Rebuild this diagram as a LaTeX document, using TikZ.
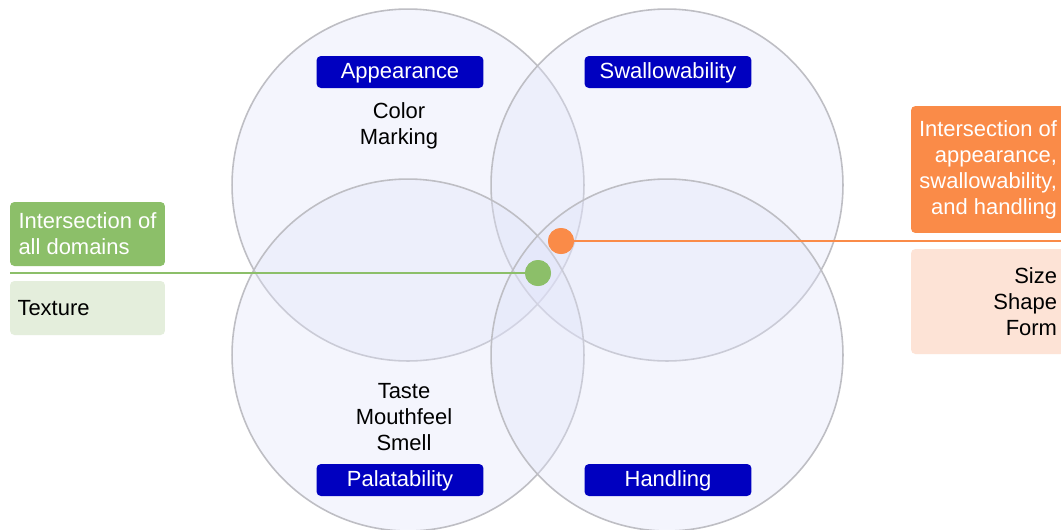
\documentclass[tikz,border=0pt]{standalone}
\usepackage{fontspec}
\setmainfont{Liberation Sans}
\usepackage{tikz}
\usetikzlibrary{positioning}
\definecolor{domfill}{RGB}{225,228,250}
\definecolor{domline}{RGB}{190,190,196}
\definecolor{labblue}{RGB}{0,0,192}
\definecolor{allgreen}{RGB}{140,191,105}
\definecolor{allgreenlt}{RGB}{228,238,220}
\definecolor{triorange}{RGB}{250,139,72}
\definecolor{triorangelt}{RGB}{253,227,214}
\tikzstyle{domcircle} = [circle,draw=domline,line width=0.9pt,fill=domfill,fill opacity=0.35,draw opacity=1,minimum size=7.04cm,inner sep=0pt]
\tikzstyle{domlabel} = [fill=labblue,text=white,rounded corners=2.5pt,minimum width=3.34cm,minimum height=0.64cm,inner sep=0pt,text height=0.72em,text depth=0pt]
\tikzstyle{items} = [align=center,inner sep=0pt]
\tikzstyle{bigtxt} = [font=\fontsize{12.5}{14.8}\selectfont]
\tikzstyle{dot} = [circle,minimum size=0.52cm,inner sep=0pt]
\tikzstyle{keyline} = [line width=1.6pt]
\tikzstyle{keybox} = [rounded corners=2.5pt,inner sep=0pt]

\begin{document}
\begin{tikzpicture}[x=0.02cm,y=-0.02cm,bigtxt]
\clip (0,0) rectangle (1061,529);
\fill[white] (0,0) rectangle (1061,529);

\foreach \n/\x/\y in {app/408/185,swa/667/185,pal/408/355,han/667/355}
{
 \node[domcircle] (\n) at (\x,\y) {};
}

\node[domlabel] (applab) at (400,72) {Appearance};
\node[domlabel] (swalab) at (668,72) {Swallowability};
\node[domlabel] (pallab) at (400,480) {Palatability};
\node[domlabel] (hanlab) at (668,480) {Handling};

\node[items] (appitems) at (399,126) {Color\\Marking};
\node[items] (palitems) at (404,417) {Taste\\Mouthfeel\\Smell};

\node[keybox,fill=allgreen,text=white,align=left,minimum width=3.1cm,minimum height=1.28cm] (allbox) at (87.5,234) {Intersection of\\all domains};
\node[keybox,fill=allgreenlt,text width=2.8cm,align=left,inner xsep=0.15cm,minimum height=1.08cm] (allitems) at (87.5,308) {Texture};

\node[keybox,fill=triorange,text=white,align=right,minimum width=3.08cm,minimum height=2.54cm] (tribox) at (988,169.5) {Intersection of\\appearance,\\swallowability,\\and handling};
\node[keybox,fill=triorangelt,text width=2.76cm,align=right,inner xsep=0.16cm,minimum height=2.1cm] (triitems) at (988,301.5) {Size\\Shape\\Form};

\coordinate (allstart) at (10,273);
\coordinate (triend) at (1061,241);
\node[dot,fill=allgreen] (alldot) at (538,273) {};
\node[dot,fill=triorange] (tridot) at (561,241) {};
\draw[keyline,allgreen] (allstart) -- (alldot);
\draw[keyline,triorange] (tridot) -- (triend);
\node[dot,fill=allgreen] at (alldot) {};
\node[dot,fill=triorange] at (tridot) {};

\end{tikzpicture}
\end{document}
